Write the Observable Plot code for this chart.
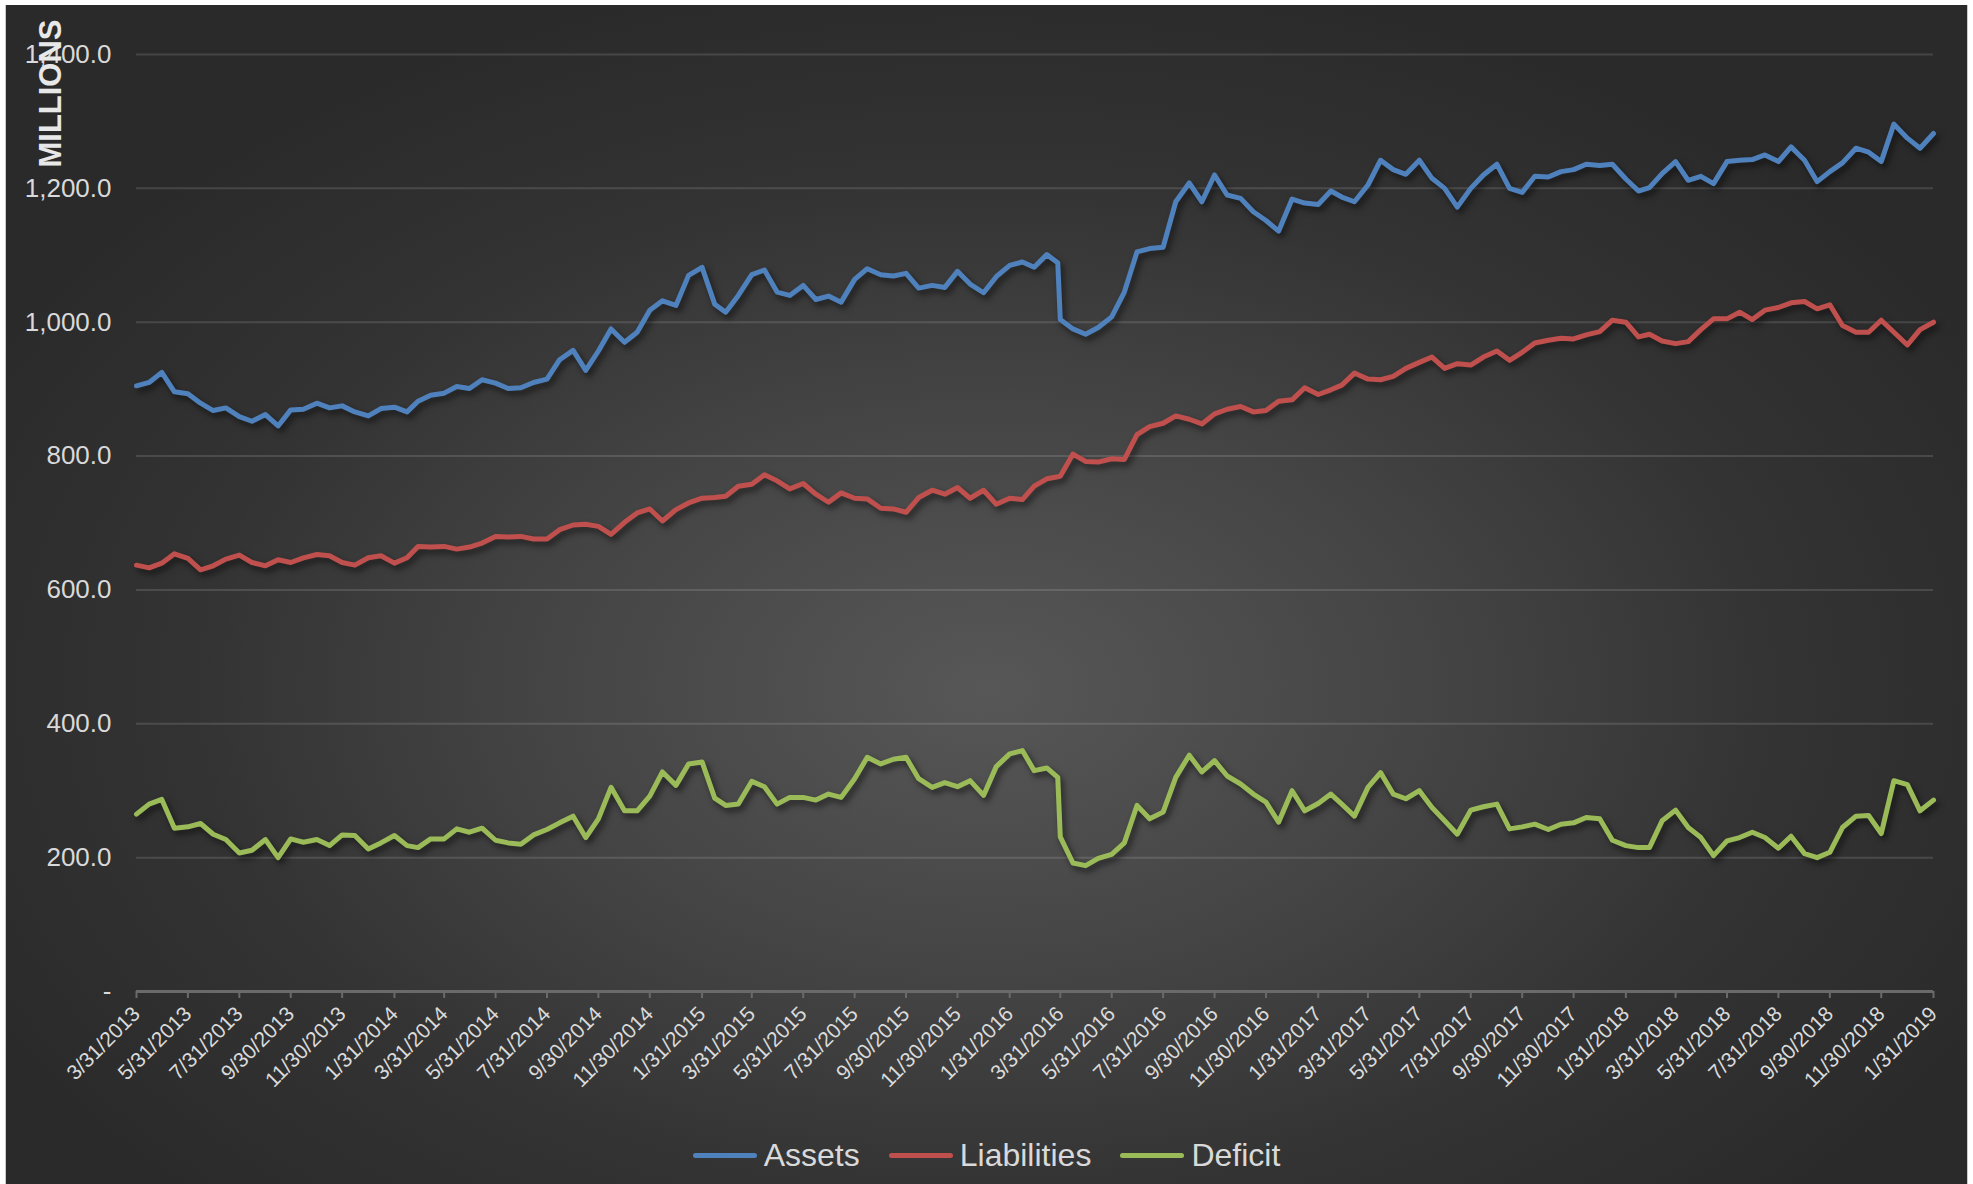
<!DOCTYPE html>
<html>
<head>
<meta charset="utf-8">
<script src="https://cdn.jsdelivr.net/npm/d3@7"></script>
<script src="https://cdn.jsdelivr.net/npm/@observablehq/plot@0.6"></script>
<style>
  html, body { margin: 0; padding: 0; background: #ffffff; width: 1973px; height: 1184px; overflow: hidden; }
  #bg { position: absolute; left: 5px; top: 5px; width: 1963px; height: 1179px; box-sizing: border-box;
        border-left: 1px solid #b9cde6; border-right: 1px solid #b9cde6;
        background: radial-gradient(ellipse 58% 62% at 50% 58%, #575757 0%, #444444 40%, #333333 70%, #2a2a2a 100%); }
  #chart { position: absolute; left: 0; top: 0; width: 1973px; }
  #legend { position: absolute; left: 0; top: 1134px; width: 1973px; height: 42px; display: flex; justify-content: center;
            align-items: center; gap: 29px; font: 32px "Liberation Sans", Arial, sans-serif; color: #d9d9d9; }
  .item { display: flex; align-items: center; line-height: 42px; }
  .sw { width: 64px; height: 5px; border-radius: 3px; margin-right: 7px; }
</style>
</head>
<body>
<div id="bg"></div>
<div id="chart"></div>
<div id="legend"></div>
<script>
// ---- data (millions), semi-monthly readings ----
const dates = [
"2013-03-31",
"2013-04-15","2013-04-30","2013-05-15","2013-05-31","2013-06-15","2013-06-30","2013-07-15","2013-07-31","2013-08-15","2013-08-31","2013-09-15","2013-09-30","2013-10-15","2013-10-31","2013-11-15","2013-11-30","2013-12-15","2013-12-31",
"2014-01-15","2014-01-31","2014-02-15","2014-02-28","2014-03-15","2014-03-31","2014-04-15","2014-04-30","2014-05-15","2014-05-31","2014-06-15","2014-06-30","2014-07-15","2014-07-31","2014-08-15","2014-08-31","2014-09-15","2014-09-30","2014-10-15","2014-10-31","2014-11-15","2014-11-30","2014-12-15","2014-12-31",
"2015-01-15","2015-01-31","2015-02-15","2015-02-28","2015-03-15","2015-03-31","2015-04-15","2015-04-30","2015-05-15","2015-05-31","2015-06-15","2015-06-30","2015-07-15","2015-07-31","2015-08-15","2015-08-31","2015-09-15","2015-09-30","2015-10-15","2015-10-31","2015-11-15","2015-11-30","2015-12-15","2015-12-31",
"2016-01-15","2016-01-31","2016-02-15","2016-02-29","2016-03-15","2016-03-28","2016-03-31","2016-04-15","2016-04-30","2016-05-15","2016-05-31","2016-06-15","2016-06-30","2016-07-15","2016-07-31","2016-08-15","2016-08-31","2016-09-15","2016-09-30","2016-10-15","2016-10-31","2016-11-15","2016-11-30","2016-12-15","2016-12-31",
"2017-01-15","2017-01-31","2017-02-15","2017-02-28","2017-03-15","2017-03-31","2017-04-15","2017-04-30","2017-05-15","2017-05-31","2017-06-15","2017-06-30","2017-07-15","2017-07-31","2017-08-15","2017-08-31","2017-09-15","2017-09-30","2017-10-15","2017-10-31","2017-11-15","2017-11-30","2017-12-15","2017-12-31",
"2018-01-15","2018-01-31","2018-02-15","2018-02-28","2018-03-15","2018-03-31","2018-04-15","2018-04-30","2018-05-15","2018-05-31","2018-06-15","2018-06-30","2018-07-15","2018-07-31","2018-08-15","2018-08-31","2018-09-15","2018-09-30","2018-10-15","2018-10-31","2018-11-15","2018-11-30","2018-12-15","2018-12-31",
"2019-01-15","2019-01-31"
];

const assets = [
905,910,925,896,893,879,868,872,859,852,
862,845,869,870,879,872,875,866,860,871,
873,866,882,891,894,904,901,914,909,901,
902,910,915,944,958,928,957,990,970,985,
1018,1032,1025,1070,1082,1027,1015,1040,1071,1078,
1045,1040,1055,1034,1039,1030,1064,1080,1071,1069,
1073,1051,1055,1052,1076,1057,1044,1068,1085,1090,
1082,1101,1089,1004,990,982,992,
1008,1045,1105,1110,1112,1180,1208,1180,1220,1190,
1185,1165,1152,1136,1184,1178,1176,1196,1187,1180,
1205,1242,1228,1221,1242,1215,1200,1172,1200,1220,
1236,1200,1194,1218,1217,1225,1228,1236,1234,1236,
1214,1196,1201,1222,1240,1212,1218,1207,1240,1242,
1243,1250,1240,1262,1242,1210,1225,1238,1260,1254,
1240,1296,1275,1260,1282
];

const liabilities = [
637,633,640,654,647,630,636,646,652,641,
636,645,641,648,653,651,641,637,648,651,
640,648,665,664,665,661,664,670,680,679,
680,676,676,690,697,698,695,683,701,715,
721,703,720,730,737,738,740,755,758,772,
763,751,759,743,731,745,737,736,722,721,
716,738,749,743,753,737,749,728,737,735,
755,766,769,770,803,792,791,
796,795,832,844,849,860,855,848,863,870,
874,866,868,882,884,902,892,899,906,924,
915,914,919,931,940,948,931,938,936,948,
957,943,955,969,973,976,975,981,986,1003,
1000,978,982,972,968,971,989,1005,1005,1015,
1004,1018,1022,1029,1031,1020,1026,995,985,985,
1003,985,966,989,1000
];

const deficit = [
265,280,287,244,246,251,235,227,207,211,
227,200,228,223,227,218,234,233,213,222,
233,218,215,228,228,243,238,244,226,222,
220,234,242,252,262,230,258,305,270,270,
292,328,308,340,343,289,278,280,314,306,
280,290,290,286,295,290,318,350,340,347,
350,318,305,312,306,315,293,336,355,360,
330,334,320,231,192,188,199,
205,222,278,258,268,320,353,328,345,322,
310,295,283,253,300,270,281,295,280,262,
305,327,295,288,300,275,255,235,271,276,
280,243,246,250,242,250,252,260,258,226,
218,215,215,255,271,245,230,203,225,230,
238,230,214,232,206,200,208,245,262,263,
236,315,309,270,286
];

const seriesNames = ["Assets", "Liabilities", "Deficit"];
const seriesColors = ["#4f81bd", "#c0504d", "#9bbb59"];

const tickLabels = [
"3/31/2013","5/31/2013","7/31/2013","9/30/2013","11/30/2013",
"1/31/2014","3/31/2014","5/31/2014","7/31/2014","9/30/2014","11/30/2014",
"1/31/2015","3/31/2015","5/31/2015","7/31/2015","9/30/2015","11/30/2015",
"1/31/2016","3/31/2016","5/31/2016","7/31/2016","9/30/2016","11/30/2016",
"1/31/2017","3/31/2017","5/31/2017","7/31/2017","9/30/2017","11/30/2017",
"1/31/2018","3/31/2018","5/31/2018","7/31/2018","9/30/2018","11/30/2018",
"1/31/2019"
];
const yTicks = [0, 200, 400, 600, 800, 1000, 1200, 1400];

// ---- build ----
const parseISO = d3.utcParse("%Y-%m-%d");
const parseUS = d3.utcParse("%m/%d/%Y");
const valueArrays = [assets, liabilities, deficit];
const rows = [];
seriesNames.forEach((name, s) => {
  dates.forEach((d, i) => rows.push({date: parseISO(d), value: valueArrays[s][i], series: name}));
});
const tickDates = tickLabels.map(parseUS);
const labelByTime = new Map(tickDates.map((d, i) => [+d, tickLabels[i]]));

const font = '"Liberation Sans", Arial, sans-serif';

const chart = Plot.plot({
  width: 1973,
  height: 1110,
  marginLeft: 136,
  marginRight: 40,
  marginTop: 54,
  marginBottom: 119,
  style: {background: "transparent", color: "#d9d9d9", fontFamily: font, overflow: "visible", maxWidth: "none"},
  x: {type: "utc", domain: [tickDates[0], tickDates[tickDates.length - 1]]},
  y: {domain: [0, 1400]},
  color: {domain: seriesNames, range: seriesColors},
  marks: [
    Plot.gridY(yTicks.filter(d => d > 0), {stroke: "#ffffff", strokeOpacity: 0.13, strokeWidth: 2}),
    Plot.ruleY([0], {stroke: "#6a6a6a", strokeWidth: 3}),
    Plot.axisY(yTicks, {tickSize: 0, tickPadding: 25, fontSize: 26, fill: "#d9d9d9", label: null,
      tickFormat: d => d === 0 ? "-" : d3.format(",.1f")(d)}),
    Plot.axisX(tickDates, {tickRotate: -45, tickSize: 7, tickPadding: 12, fontSize: 21, stroke: "#6a6a6a",
      strokeWidth: 2, fill: "#dadada", label: null, tickFormat: d => labelByTime.get(+d)}),
    Plot.line(rows, {x: "date", y: "value", z: "series", stroke: "series", strokeWidth: 5, strokeLinejoin: "round"}),
    Plot.text(["MILLIONS"], {text: d => d, frameAnchor: "top-left", dx: -98, dy: 39, rotate: -90,
      fontSize: 31, fontWeight: "bold", fill: "#e8e8e8", textAnchor: "middle"})
  ]
});
chart.querySelectorAll('g[aria-label="line"]').forEach(g => {
  g.style.filter = "drop-shadow(3px 4px 3px rgba(0,0,0,0.55))";
});
document.getElementById("chart").appendChild(chart);

// legend
const legend = document.getElementById("legend");
seriesNames.forEach((name, i) => {
  const item = document.createElement("div");
  item.className = "item";
  const sw = document.createElement("div");
  sw.className = "sw";
  sw.style.background = seriesColors[i];
  const label = document.createElement("span");
  label.textContent = name;
  item.appendChild(sw);
  item.appendChild(label);
  legend.appendChild(item);
});
</script>
</body>
</html>
